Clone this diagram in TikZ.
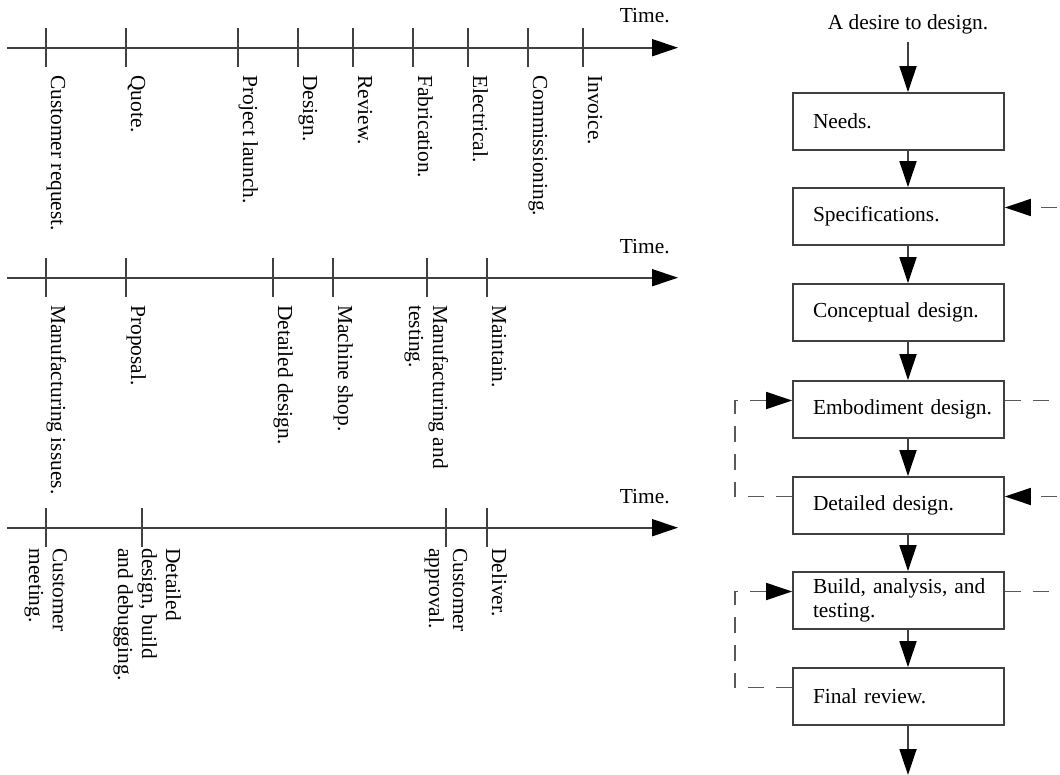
\documentclass[tikz,border=0pt]{standalone}
\usepackage{fontspec}
\setmainfont{Liberation Serif}
\usetikzlibrary{arrows.meta}

\tikzset{
  line/.style={line width=0.9pt, draw=black!75},
  head/.style={-{Triangle[length=13pt,width=8.5pt,color=black]}},
  axis/.style={line, head},
  tick/.style={line},
  event/.style={rotate=-90, anchor=base west, inner sep=0pt, align=left},
  stage/.style={line, rectangle, minimum height=28.5pt, text width=85.5pt,
    inner xsep=10pt, align=left},
  flow/.style={line, head},
  back/.style={line, draw=black!65, dash pattern=on 8pt off 6pt},
}

\begin{document}
\begin{tikzpicture}[x=0.5pt,y=0.5pt,font=\fontsize{10.7pt}{12pt}\selectfont]
\useasboundingbox (0,0) rectangle (1060,-775);

% time line 1
\coordinate (a1) at (7,-47.7);
\coordinate (b1) at (678,-47.7);
\draw[axis] (a1) -- (b1);
\node[anchor=base east, inner sep=0pt] (time1) at (670,-23) {Time.};
\foreach \x in {46,126,238,298,353,413,468,528,583}
  \draw[tick] (\x,-28) -- (\x,-67);

\node[event] (request) at (51,-75) {Customer request.};
\node[event] (quote) at (131,-75) {Quote.};
\node[event] (launch) at (243,-75) {Project launch.};
\node[event] (design) at (303,-75) {Design.};
\node[event] (review1) at (358,-75) {Review.};
\node[event] (fab) at (418,-75) {Fabrication.};
\node[event] (elec) at (473,-75) {Electrical.};
\node[event] (comm) at (533,-75) {Commissioning.};
\node[event] (invoice) at (588,-75) {Invoice.};

% time line 2
\coordinate (a2) at (7,-277.7);
\coordinate (b2) at (678,-277.7);
\draw[axis] (a2) -- (b2);
\node[anchor=base east, inner sep=0pt] (time2) at (670,-254) {Time.};
\foreach \x in {46,126,273,333,427,487}
  \draw[tick] (\x,-258) -- (\x,-297);

\node[event] (issues) at (51,-305) {Manufacturing issues.};
\node[event] (proposal) at (131,-305) {Proposal.};
\node[event] (detailed2) at (278,-305) {Detailed design.};
\node[event] (shop) at (338,-305) {Machine shop.};
% base is the last line here
\node[event] (mfg) at (409,-305) {Manufacturing and\\testing.};
\node[event] (maintain) at (492,-305) {Maintain.};

% time line 3
\coordinate (a3) at (7,-527.7);
\coordinate (b3) at (678,-527.7);
\draw[axis] (a3) -- (b3);
\node[anchor=base east, inner sep=0pt] (time3) at (670,-503) {Time.};
\foreach \x in {46,142,446,487}
  \draw[tick] (\x,-508) -- (\x,-547);

\node[event] (meeting) at (29,-548) {Customer\\meeting.};
\node[event] (debug) at (118,-548) {Detailed\\design, build\\and debugging.};
\node[event] (approval) at (429,-548) {Customer\\approval.};
\node[event] (deliver) at (492,-548) {Deliver.};

% design process
\node[anchor=base] (desire) at (908,-30) {A desire to design.};
\node[stage] (needs) at (898.5,-121.5) {Needs.};
\node[stage] (spec) at (898.5,-216.5) {Specifications.};
\node[stage] (concept) at (898.5,-312.5) {Conceptual design.};
\node[stage] (embod) at (898.5,-409.5) {\mbox{Embodiment design.}};
\node[stage] (detail) at (898.5,-505.5) {Detailed design.};
\node[stage] (build) at (898.5,-600.5) {\mbox{Build, analysis, and}\\testing.};
\node[stage] (final) at (898.5,-696.5) {Final review.};
\coordinate (out) at (908,-775);

\draw[flow] (desire.south) -- (needs.north -| desire);
\draw[flow] (needs.south -| desire) -- (spec.north -| desire);
\draw[flow] (spec.south -| desire) -- (concept.north -| desire);
\draw[flow] (concept.south -| desire) -- (embod.north -| desire);
\draw[flow] (embod.south -| desire) -- (detail.north -| desire);
\draw[flow] (detail.south -| desire) -- (build.north -| desire);
\draw[flow] (build.south -| desire) -- (final.north -| desire);
\draw[flow] (final.south -| desire) -- (out);

% loops back
\draw[back, head] ([yshift=4.5pt]detail.west) -- ++(-57,0) |- ([yshift=4.5pt]embod.west);
\draw[back, head] ([yshift=4.5pt]final.west) -- ++(-57,0) |- ([yshift=4.5pt]build.west);

\coordinate (specin) at ([xshift=40pt,yshift=4.5pt]spec.east);
\coordinate (embodout) at ([xshift=40pt,yshift=4.5pt]embod.east);
\coordinate (detailin) at ([xshift=40pt,yshift=4.5pt]detail.east);
\coordinate (buildout) at ([xshift=40pt,yshift=4.5pt]build.east);
\draw[back, head] (specin) -- ([yshift=4.5pt]spec.east);
\draw[back] ([yshift=4.5pt]embod.east) -- (embodout);
\draw[back, head] (detailin) -- ([yshift=4.5pt]detail.east);
\draw[back] ([yshift=4.5pt]build.east) -- (buildout);

\end{tikzpicture}
\end{document}
